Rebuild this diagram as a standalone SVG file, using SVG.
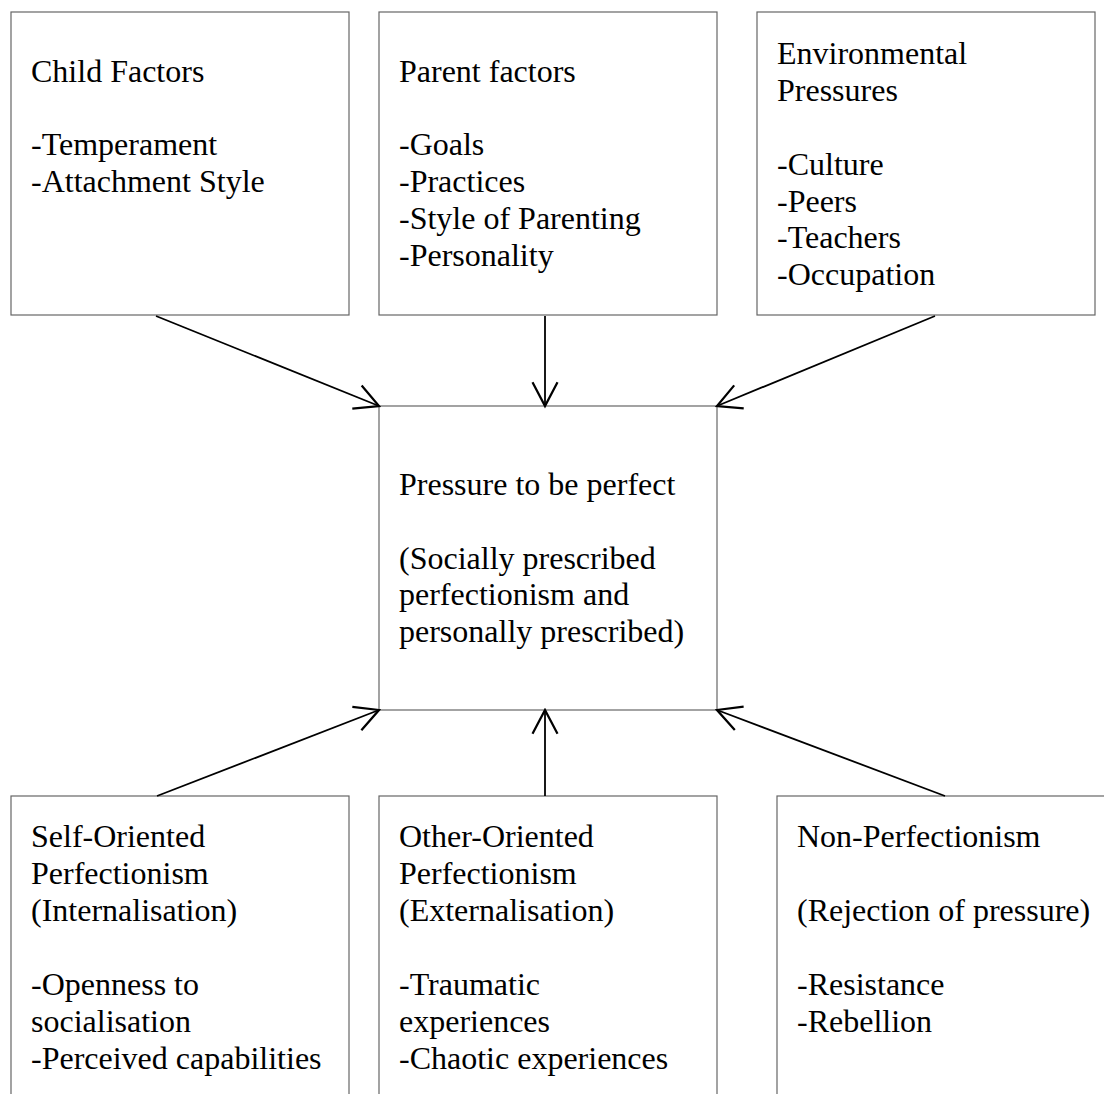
<svg xmlns="http://www.w3.org/2000/svg" width="1104" height="1094" viewBox="0 0 1104 1094">
<style>
.box{fill:#fff;stroke:#666;stroke-width:1.2}
.t{font-family:"Liberation Serif","Times New Roman",serif;font-size:32px;fill:#000}
.c{stroke:#000;stroke-width:1.8;fill:none}
</style>
<defs>
<marker id="ah" markerUnits="userSpaceOnUse" markerWidth="30" markerHeight="30" viewBox="-22 -12 24 24" refX="0" refY="0" orient="auto">
<path d="M-19,-10 L0,0 L-19,10" fill="none" stroke="#000" stroke-width="1.8"/>
</marker>
</defs>
<rect width="1104" height="1094" fill="#fff"/>
<g id="child">
<rect class="box" x="11" y="12" width="338" height="303"/>
<text class="t" x="31" y="81.7">Child Factors</text>
<text class="t" x="31" y="155.3">-Temperament</text>
<text class="t" x="31" y="192.1">-Attachment Style</text>
</g>
<g id="parent">
<rect class="box" x="379" y="12" width="338" height="303"/>
<text class="t" x="399" y="81.7">Parent factors</text>
<text class="t" x="399" y="155.3">-Goals</text>
<text class="t" x="399" y="192.1">-Practices</text>
<text class="t" x="399" y="228.9">-Style of Parenting</text>
<text class="t" x="399" y="265.7">-Personality</text>
</g>
<g id="environment">
<rect class="box" x="757" y="12" width="338" height="303"/>
<text class="t" x="777" y="64.3">Environmental</text>
<text class="t" x="777" y="101.1">Pressures</text>
<text class="t" x="777" y="174.7">-Culture</text>
<text class="t" x="777" y="211.5">-Peers</text>
<text class="t" x="777" y="248.3">-Teachers</text>
<text class="t" x="777" y="285.1">-Occupation</text>
</g>
<g id="pressure">
<rect class="box" x="379" y="406" width="338" height="304"/>
<text class="t" x="399" y="495">Pressure to be perfect</text>
<text class="t" x="399" y="568.6">(Socially prescribed</text>
<text class="t" x="399" y="605.4">perfectionism and</text>
<text class="t" x="399" y="642.2">personally prescribed)</text>
</g>
<g id="self-oriented">
<rect class="box" x="11" y="796" width="338" height="320"/>
<text class="t" x="31" y="846.7">Self-Oriented</text>
<text class="t" x="31" y="883.7">Perfectionism</text>
<text class="t" x="31" y="920.7">(Internalisation)</text>
<text class="t" x="31" y="994.7">-Openness to</text>
<text class="t" x="31" y="1031.7">socialisation</text>
<text class="t" x="31" y="1068.7">-Perceived capabilities</text>
</g>
<g id="other-oriented">
<rect class="box" x="379" y="796" width="338" height="320"/>
<text class="t" x="399" y="846.7">Other-Oriented</text>
<text class="t" x="399" y="883.7">Perfectionism</text>
<text class="t" x="399" y="920.7">(Externalisation)</text>
<text class="t" x="399" y="994.7">-Traumatic</text>
<text class="t" x="399" y="1031.7">experiences</text>
<text class="t" x="399" y="1068.7">-Chaotic experiences</text>
</g>
<g id="non-perfectionism">
<rect class="box" x="777" y="796" width="338" height="320"/>
<text class="t" x="797" y="846.7">Non-Perfectionism</text>
<text class="t" x="797" y="920.7">(Rejection of pressure)</text>
<text class="t" x="797" y="994.7">-Resistance</text>
<text class="t" x="797" y="1031.7">-Rebellion</text>
</g>
<g id="connectors">
<line class="c" x1="156" y1="316" x2="379" y2="406" marker-end="url(#ah)"/>
<line class="c" x1="545" y1="316" x2="545" y2="406" marker-end="url(#ah)"/>
<line class="c" x1="935" y1="316" x2="717" y2="406" marker-end="url(#ah)"/>
<line class="c" x1="157" y1="796" x2="379" y2="710" marker-end="url(#ah)"/>
<line class="c" x1="545" y1="796" x2="545" y2="710" marker-end="url(#ah)"/>
<line class="c" x1="945" y1="796" x2="717" y2="710" marker-end="url(#ah)"/>
</g>
</svg>
